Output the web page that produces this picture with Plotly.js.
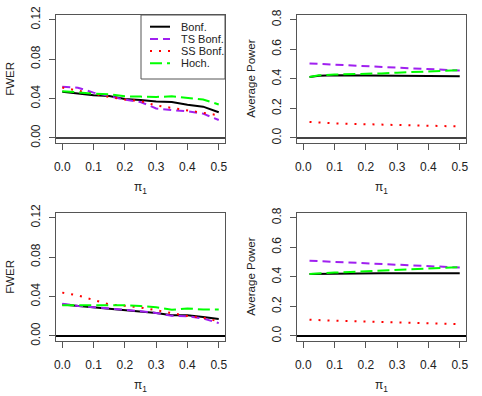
<!DOCTYPE html>
<html>
<head>
<meta charset="utf-8">
<script src="https://cdn.plot.ly/plotly-3.0.1.min.js"></script>
<style>
  html, body { margin: 0; padding: 0; background: #fff; }
  #plot { width: 482px; height: 396px; }
</style>
</head>
<body>
<div id="plot"></div>
<script>
// pi_1 grid for each panel type
const pi1Fwer = [0, 0.05, 0.1, 0.15, 0.2, 0.25, 0.3, 0.35, 0.4, 0.45, 0.5];
const pi1Power = [0.02, 0.05, 0.1, 0.15, 0.2, 0.25, 0.3, 0.35, 0.4, 0.45, 0.5];

const methods = ['Bonf.', 'TS Bonf.', 'SS Bonf.', 'Hoch.'];

// top-left: FWER
const fwerTopBonf = [0.0468, 0.0452, 0.0433, 0.0425, 0.0396, 0.0385, 0.0371, 0.0365, 0.0337, 0.0318, 0.0261];
const fwerTopTs   = [0.052, 0.051, 0.046, 0.0425, 0.039, 0.0365, 0.030, 0.0283, 0.0272, 0.0247, 0.0182];
const fwerTopSs   = [0.0512, 0.048, 0.0444, 0.0416, 0.039, 0.0375, 0.033, 0.0306, 0.0279, 0.0261, 0.023];
const fwerTopHoch = [0.0475, 0.046, 0.045, 0.0444, 0.0423, 0.042, 0.0416, 0.0423, 0.041, 0.039, 0.034];

// top-right: average power
const powTopBonf = [0.413, 0.421, 0.424, 0.423, 0.422, 0.421, 0.420, 0.419, 0.418, 0.418, 0.417];
const powTopTs   = [0.504, 0.501, 0.497, 0.492, 0.487, 0.482, 0.477, 0.472, 0.467, 0.461, 0.456];
const powTopSs   = [0.108, 0.103, 0.099, 0.096, 0.092, 0.090, 0.087, 0.085, 0.083, 0.080, 0.078];
const powTopHoch = [0.413, 0.424, 0.429, 0.431, 0.433, 0.437, 0.442, 0.446, 0.449, 0.454, 0.458];

// bottom-left: FWER
const fwerBotBonf = [0.032, 0.0306, 0.0292, 0.028, 0.0268, 0.0252, 0.0234, 0.021, 0.021, 0.0193, 0.0172];
const fwerBotTs   = [0.0327, 0.0305, 0.0292, 0.028, 0.0268, 0.0252, 0.0234, 0.0205, 0.020, 0.0178, 0.013];
const fwerBotSs   = [0.044, 0.0412, 0.0365, 0.032, 0.0306, 0.0289, 0.0261, 0.0234, 0.0203, 0.0186, 0.0148];
const fwerBotHoch = [0.0313, 0.0313, 0.0313, 0.032, 0.0313, 0.0303, 0.0292, 0.0265, 0.0279, 0.0268, 0.0268];

// bottom-right: average power
const powBotBonf = [0.42, 0.421, 0.424, 0.424, 0.424, 0.424, 0.424, 0.424, 0.424, 0.424, 0.424];
const powBotTs   = [0.509, 0.506, 0.502, 0.497, 0.492, 0.487, 0.482, 0.477, 0.472, 0.468, 0.463];
const powBotSs   = [0.11, 0.106, 0.103, 0.100, 0.097, 0.094, 0.091, 0.088, 0.085, 0.082, 0.080];
const powBotHoch = [0.42, 0.425, 0.429, 0.433, 0.438, 0.442, 0.447, 0.451, 0.456, 0.461, 0.465];

const colors = ['#000000', '#A020F0', '#FF0000', '#00FF00'];
const dashes = ['solid', '8px,5px', '2px,7px', '12px,5px'];

const W = 482, H = 396;
const FONT = 'Liberation Sans, Arial, Helvetica, sans-serif';

// pixel boxes of the four panels [left, right, top, bottom]
const boxes = [
    [56, 225, 15, 142.7],
    [297, 466, 15, 142.7],
    [56, 225, 213, 340.7],
    [297, 466, 213, 340.7]
];

const panels = [
    { x: pi1Fwer, ys: [fwerTopBonf, fwerTopTs, fwerTopSs, fwerTopHoch], ylab: 'FWER' },
    { x: pi1Power, ys: [powTopBonf, powTopTs, powTopSs, powTopHoch], ylab: 'Average Power' },
    { x: pi1Fwer, ys: [fwerBotBonf, fwerBotTs, fwerBotSs, fwerBotHoch], ylab: 'FWER' },
    { x: pi1Power, ys: [powBotBonf, powBotTs, powBotSs, powBotHoch], ylab: 'Average Power' }
];

const traces = [];
const layout = {
    width: W,
    height: H,
    margin: { l: 0, r: 0, t: 0, b: 0 },
    paper_bgcolor: '#fff',
    plot_bgcolor: '#fff',
    showlegend: false,
    font: { family: FONT, size: 11, color: '#000' },
    annotations: [],
    shapes: []
};

panels.forEach(function(p, k) {
    const n = k === 0 ? '' : String(k + 1);
    const b = boxes[k];
    const isFwer = p.ylab === 'FWER';

    p.ys.forEach(function(y, i) {
        traces.push({
            x: p.x,
            y: y,
            xaxis: 'x' + n,
            yaxis: 'y' + n,
            mode: 'lines',
            name: methods[i],
            line: { color: colors[i], width: 2, dash: dashes[i] },
            hoverinfo: 'skip'
        });
    });

    const common = {
        showline: true,
        mirror: true,
        linecolor: '#555',
        linewidth: 1,
        showgrid: false,
        ticks: 'outside',
        ticklen: 6,
        tickcolor: '#555',
        tickfont: { family: FONT, size: 12, color: '#222' },
        fixedrange: true
    };

    layout['xaxis' + n] = Object.assign({}, common, {
        domain: [b[0] / W, b[1] / W],
        anchor: 'y' + n,
        range: [-0.02, 0.52],
        tickvals: [0, 0.1, 0.2, 0.3, 0.4, 0.5],
        tickformat: '.1f',
        ticklabelstandoff: 7,
        zeroline: false
    });

    layout['yaxis' + n] = Object.assign({}, common, {
        domain: [(H - b[3]) / H, (H - b[2]) / H],
        anchor: 'x' + n,
        range: isFwer ? [-0.0048, 0.1248] : [-0.032, 0.832],
        tickvals: isFwer ? [0, 0.04, 0.08, 0.12] : [0, 0.2, 0.4, 0.6, 0.8],
        tickformat: isFwer ? '.2f' : '.1f',
        tickangle: -90,
        ticklabelstandoff: 4,
        zeroline: true,
        zerolinecolor: k < 2 ? '#444' : '#000',
        zerolinewidth: 1.2
    });

    // axis titles
    layout.annotations.push({
        xref: 'paper', yref: 'paper',
        x: (b[0] + b[1]) / 2 / W, y: (H - (b[3] + 45.5)) / H,
        text: 'π<sub>1</sub>', showarrow: false,
        font: { family: FONT, size: 12, color: '#222' },
        xanchor: 'center', yanchor: 'middle'
    });
    layout.annotations.push({
        xref: 'paper', yref: 'paper',
        x: (b[0] - 46) / W, y: (H - (b[2] + b[3]) / 2) / H,
        text: p.ylab, showarrow: false, textangle: -90,
        font: { family: FONT, size: 11.5, color: '#222' },
        xanchor: 'center', yanchor: 'middle'
    });
});

// legend box in the first panel
const leg = { l: 141, r: 225, t: 15, b: 79 };
layout.shapes.push({
    type: 'rect', xref: 'paper', yref: 'paper',
    x0: leg.l / W, x1: leg.r / W, y0: (H - leg.b) / H, y1: (H - leg.t) / H,
    line: { color: '#555', width: 1 }, fillcolor: '#fff', layer: 'below'
});
methods.forEach(function(m, i) {
    const yy = (H - (26.7 + i * 12.2)) / H;
    layout.shapes.push({
        type: 'line', xref: 'paper', yref: 'paper',
        x0: 150 / W, x1: 170 / W, y0: yy, y1: yy,
        line: { color: colors[i], width: 2, dash: dashes[i] }
    });
    layout.annotations.push({
        xref: 'paper', yref: 'paper',
        x: 179 / W, y: yy, text: m, showarrow: false,
        xanchor: 'left', yanchor: 'middle',
        font: { family: FONT, size: 11, color: '#222' }
    });
});

Plotly.newPlot('plot', traces, layout, { staticPlot: true, displayModeBar: false });
</script>
</body>
</html>
